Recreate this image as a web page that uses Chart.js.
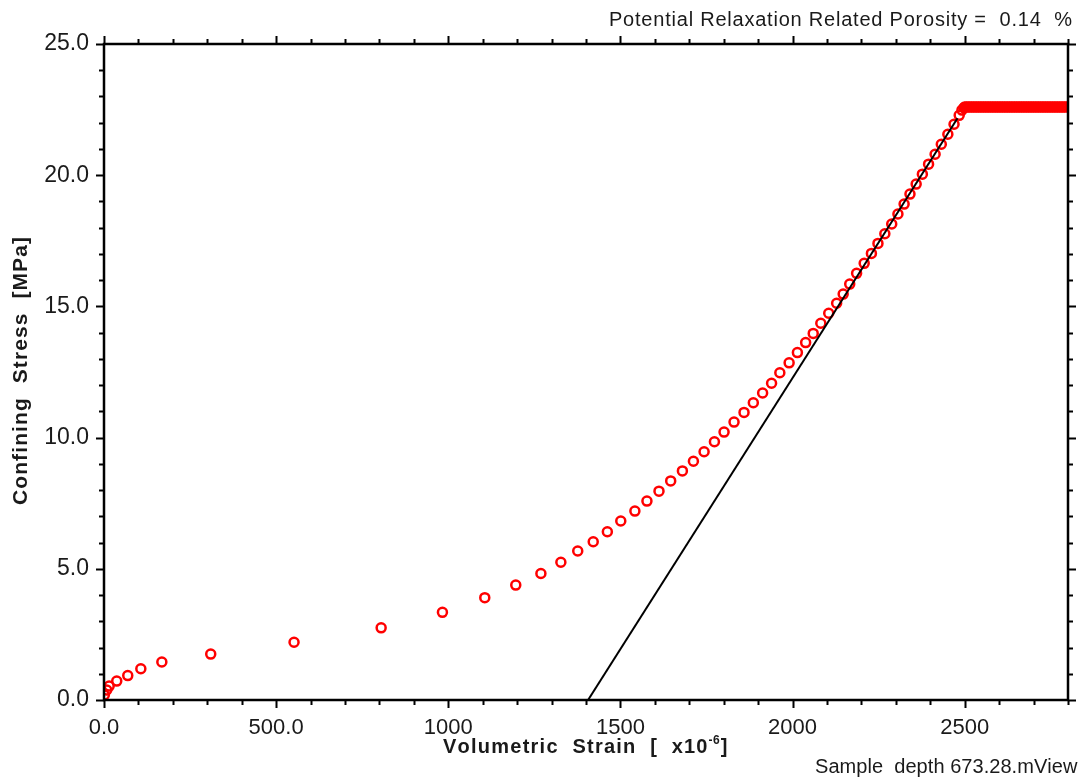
<!DOCTYPE html>
<html>
<head>
<meta charset="utf-8">
<script src="https://cdn.jsdelivr.net/npm/chart.js@4.4.1/dist/chart.umd.min.js"></script>
<style>
  html, body { margin: 0; padding: 0; background: #ffffff; }
  canvas { display: block; }
</style>
</head>
<body>
<canvas id="chart" width="1081" height="778"></canvas>
<script>
// Measured loading curve: volumetric strain (x10^-6) vs confining stress (MPa)
const strain = [
  1, 8, 15, 37, 69, 107, 168, 310, 552, 805, 983, 1106, 1196, 1269,
  1327, 1376, 1421, 1462, 1501, 1542, 1577, 1612, 1646, 1680, 1712, 1743,
  1773, 1801, 1830, 1859, 1886, 1913, 1939, 1963, 1990, 2014, 2038, 2060,
  2082, 2105, 2128, 2147, 2166, 2186, 2208, 2229, 2248, 2268, 2288, 2306,
  2324, 2341, 2359, 2377, 2395, 2414, 2432, 2451, 2469, 2484, 2492, 2498,
  2500, 2505, 2510, 2515, 2520, 2525, 2530, 2535, 2540, 2545, 2550, 2555,
  2560, 2565, 2570, 2575, 2580, 2585, 2590, 2595, 2600, 2605, 2610, 2615,
  2620, 2625, 2630, 2635, 2640, 2645, 2650, 2655, 2660, 2665, 2670, 2675,
  2680, 2685, 2690, 2695, 2700, 2705, 2710, 2715, 2720, 2725, 2730, 2735,
  2740, 2745, 2750, 2755, 2760, 2765, 2770, 2775, 2780, 2785, 2790, 2795
];
const stress = [
  0.19, 0.38, 0.53, 0.72, 0.93, 1.19, 1.45, 1.75, 2.20, 2.75, 3.34, 3.90, 4.38, 4.82,
  5.25, 5.68, 6.03, 6.41, 6.82, 7.20, 7.58, 7.96, 8.35, 8.73, 9.10, 9.46,
  9.84, 10.21, 10.59, 10.96, 11.33, 11.70, 12.07, 12.47, 12.85, 13.24, 13.62, 13.97,
  14.36, 14.74, 15.12, 15.47, 15.85, 16.26, 16.64, 17.02, 17.40, 17.77, 18.14, 18.52,
  18.90, 19.28, 19.66, 20.04, 20.42, 20.80, 21.18, 21.56, 21.94, 22.28, 22.48, 22.57,
  22.6, 22.6, 22.6, 22.6, 22.6, 22.6, 22.6, 22.6, 22.6, 22.6, 22.6, 22.6,
  22.6, 22.6, 22.6, 22.6, 22.6, 22.6, 22.6, 22.6, 22.6, 22.6, 22.6, 22.6,
  22.6, 22.6, 22.6, 22.6, 22.6, 22.6, 22.6, 22.6, 22.6, 22.6, 22.6, 22.6,
  22.6, 22.6, 22.6, 22.6, 22.6, 22.6, 22.6, 22.6, 22.6, 22.6, 22.6, 22.6,
  22.6, 22.6, 22.6, 22.6, 22.6, 22.6, 22.6, 22.6, 22.6, 22.6, 22.6, 22.6
];

// Linear fit of the elastic part, extended down to zero stress
const fitStrain = [1406, 2479];
const fitStress = [0, 22.17];

// Axis ranges and labelled ticks
const xRange = [0, 2800];
const yRange = [0, 25];
const xTickValues = [0, 500, 1000, 1500, 2000, 2500];
const xTickLabels = ['0.0', '500.0', '1000', '1500', '2000', '2500'];
const yTickValues = [0, 5, 10, 15, 20, 25];
const yTickLabels = ['0.0', '5.0', '10.0', '15.0', '20.0', '25.0'];
const xMinorStep = 100;
const yMinorStep = 1;

const FONT = '"Liberation Sans", Arial, Helvetica, sans-serif';
const INK = '#1a1a1a';

const points = strain.map((v, i) => ({ x: v, y: stress[i] }));
const fitLine = fitStrain.map((v, i) => ({ x: v, y: fitStress[i] }));

// Draws a string one glyph at a time with a fixed extra gap
function textWithGap(ctx, text, x, y, gap) {
  let cx = x;
  for (const ch of Array.from(text)) {
    ctx.fillText(ch, cx, y);
    cx += ctx.measureText(ch).width + gap;
  }
  return cx - gap;
}

// Draws a string spread out to a given width
function spreadText(ctx, text, x, y, width) {
  const n = Array.from(text).length;
  const natural = ctx.measureText(text).width;
  const gap = n > 1 ? (width - natural) / (n - 1) : 0;
  return textWithGap(ctx, text, x, y, gap);
}

// Frame with outward tick marks on all four sides, plus titles and notes
const framePlugin = {
  id: 'frame',
  afterDatasetsDraw(chart) {
    const { ctx, chartArea: a, scales: { x, y } } = chart;
    ctx.save();
    ctx.strokeStyle = '#000';
    ctx.lineCap = 'butt';

    ctx.lineWidth = 2;
    ctx.beginPath();
    for (let v = xRange[0]; v <= xRange[1]; v += xMinorStep) {
      const px = Math.round(x.getPixelForValue(v)) + 0.5;
      const len = v % 500 === 0 ? 8 : 5;
      ctx.moveTo(px, a.bottom); ctx.lineTo(px, a.bottom + len);
      ctx.moveTo(px, a.top); ctx.lineTo(px, a.top - len);
    }
    for (let v = yRange[0]; v <= yRange[1] + 1e-9; v += yMinorStep) {
      const py = Math.round(y.getPixelForValue(v)) + 0.5;
      const len = Math.round(v) % 5 === 0 ? 8 : 5;
      ctx.moveTo(a.left, py); ctx.lineTo(a.left - len, py);
      ctx.moveTo(a.right, py); ctx.lineTo(a.right + len, py);
    }
    ctx.stroke();

    ctx.lineWidth = 2.5;
    ctx.strokeRect(a.left, a.top, a.right - a.left, a.bottom - a.top);

    ctx.fillStyle = INK;
    ctx.textBaseline = 'alphabetic';
    ctx.textAlign = 'left';

    // Header note
    ctx.font = '20px ' + FONT;
    spreadText(ctx, 'Potential Relaxation Related Porosity =  0.14  %', 609, 26, 463);

    // Footer note
    spreadText(ctx, 'Sample  depth 673.28.mView', 815, 773, 262);

    // X axis title with superscript exponent
    ctx.font = 'bold 20px ' + FONT;
    let cx = spreadText(ctx, 'Volumetric  Strain  [  x10', 443, 753, 263);
    ctx.font = 'bold 12px ' + FONT;
    cx = textWithGap(ctx, '-6', cx + 1, 744, 0.5);
    ctx.font = 'bold 20px ' + FONT;
    textWithGap(ctx, ']', cx + 1, 753, 0);

    // Y axis title, rotated
    ctx.font = 'bold 21px ' + FONT;
    ctx.translate(27, 505);
    ctx.rotate(-Math.PI / 2);
    spreadText(ctx, 'Confining  Stress  [MPa]', 0, 0, 268);

    ctx.restore();
  }
};

new Chart(document.getElementById('chart'), {
  type: 'scatter',
  data: {
    datasets: [
      {
        label: 'Linear fit',
        data: fitLine,
        showLine: true,
        borderColor: '#000000',
        borderWidth: 2,
        pointRadius: 0,
        fill: false,
        order: 0
      },
      {
        label: 'Confining stress',
        data: points,
        showLine: false,
        pointStyle: 'circle',
        pointRadius: 4.5,
        pointBorderWidth: 2.5,
        borderColor: '#ff0000',
        pointBorderColor: '#ff0000',
        backgroundColor: 'rgba(0,0,0,0)',
        pointBackgroundColor: 'rgba(0,0,0,0)',
        order: 1
      }
    ]
  },
  options: {
    responsive: false,
    animation: false,
    devicePixelRatio: 1,
    layout: { padding: { top: 44, right: 13, bottom: 0, left: 0 } },
    plugins: {
      legend: { display: false },
      tooltip: { enabled: false },
      title: { display: false }
    },
    scales: {
      x: {
        type: 'linear',
        position: 'bottom',
        min: xRange[0],
        max: xRange[1],
        afterFit(scale) { scale.height = 78; },
        afterBuildTicks(scale) { scale.ticks = xTickValues.map(v => ({ value: v })); },
        ticks: {
          autoSkip: false,
          maxRotation: 0,
          padding: 15,
          color: INK,
          font: { family: FONT, size: 22 },
          callback(value) {
            const i = xTickValues.indexOf(value);
            return i >= 0 ? xTickLabels[i] : '';
          }
        },
        grid: { display: false, drawTicks: false },
        border: { display: false }
      },
      y: {
        type: 'linear',
        position: 'left',
        min: yRange[0],
        max: yRange[1],
        afterFit(scale) { scale.width = 104; },
        afterBuildTicks(scale) { scale.ticks = yTickValues.map(v => ({ value: v })); },
        ticks: {
          autoSkip: false,
          padding: 15,
          color: INK,
          font: { family: FONT, size: 23 },
          callback(value) {
            const i = yTickValues.indexOf(value);
            return i >= 0 ? yTickLabels[i] : '';
          }
        },
        grid: { display: false, drawTicks: false },
        border: { display: false }
      }
    }
  },
  plugins: [framePlugin]
});
</script>
</body>
</html>
